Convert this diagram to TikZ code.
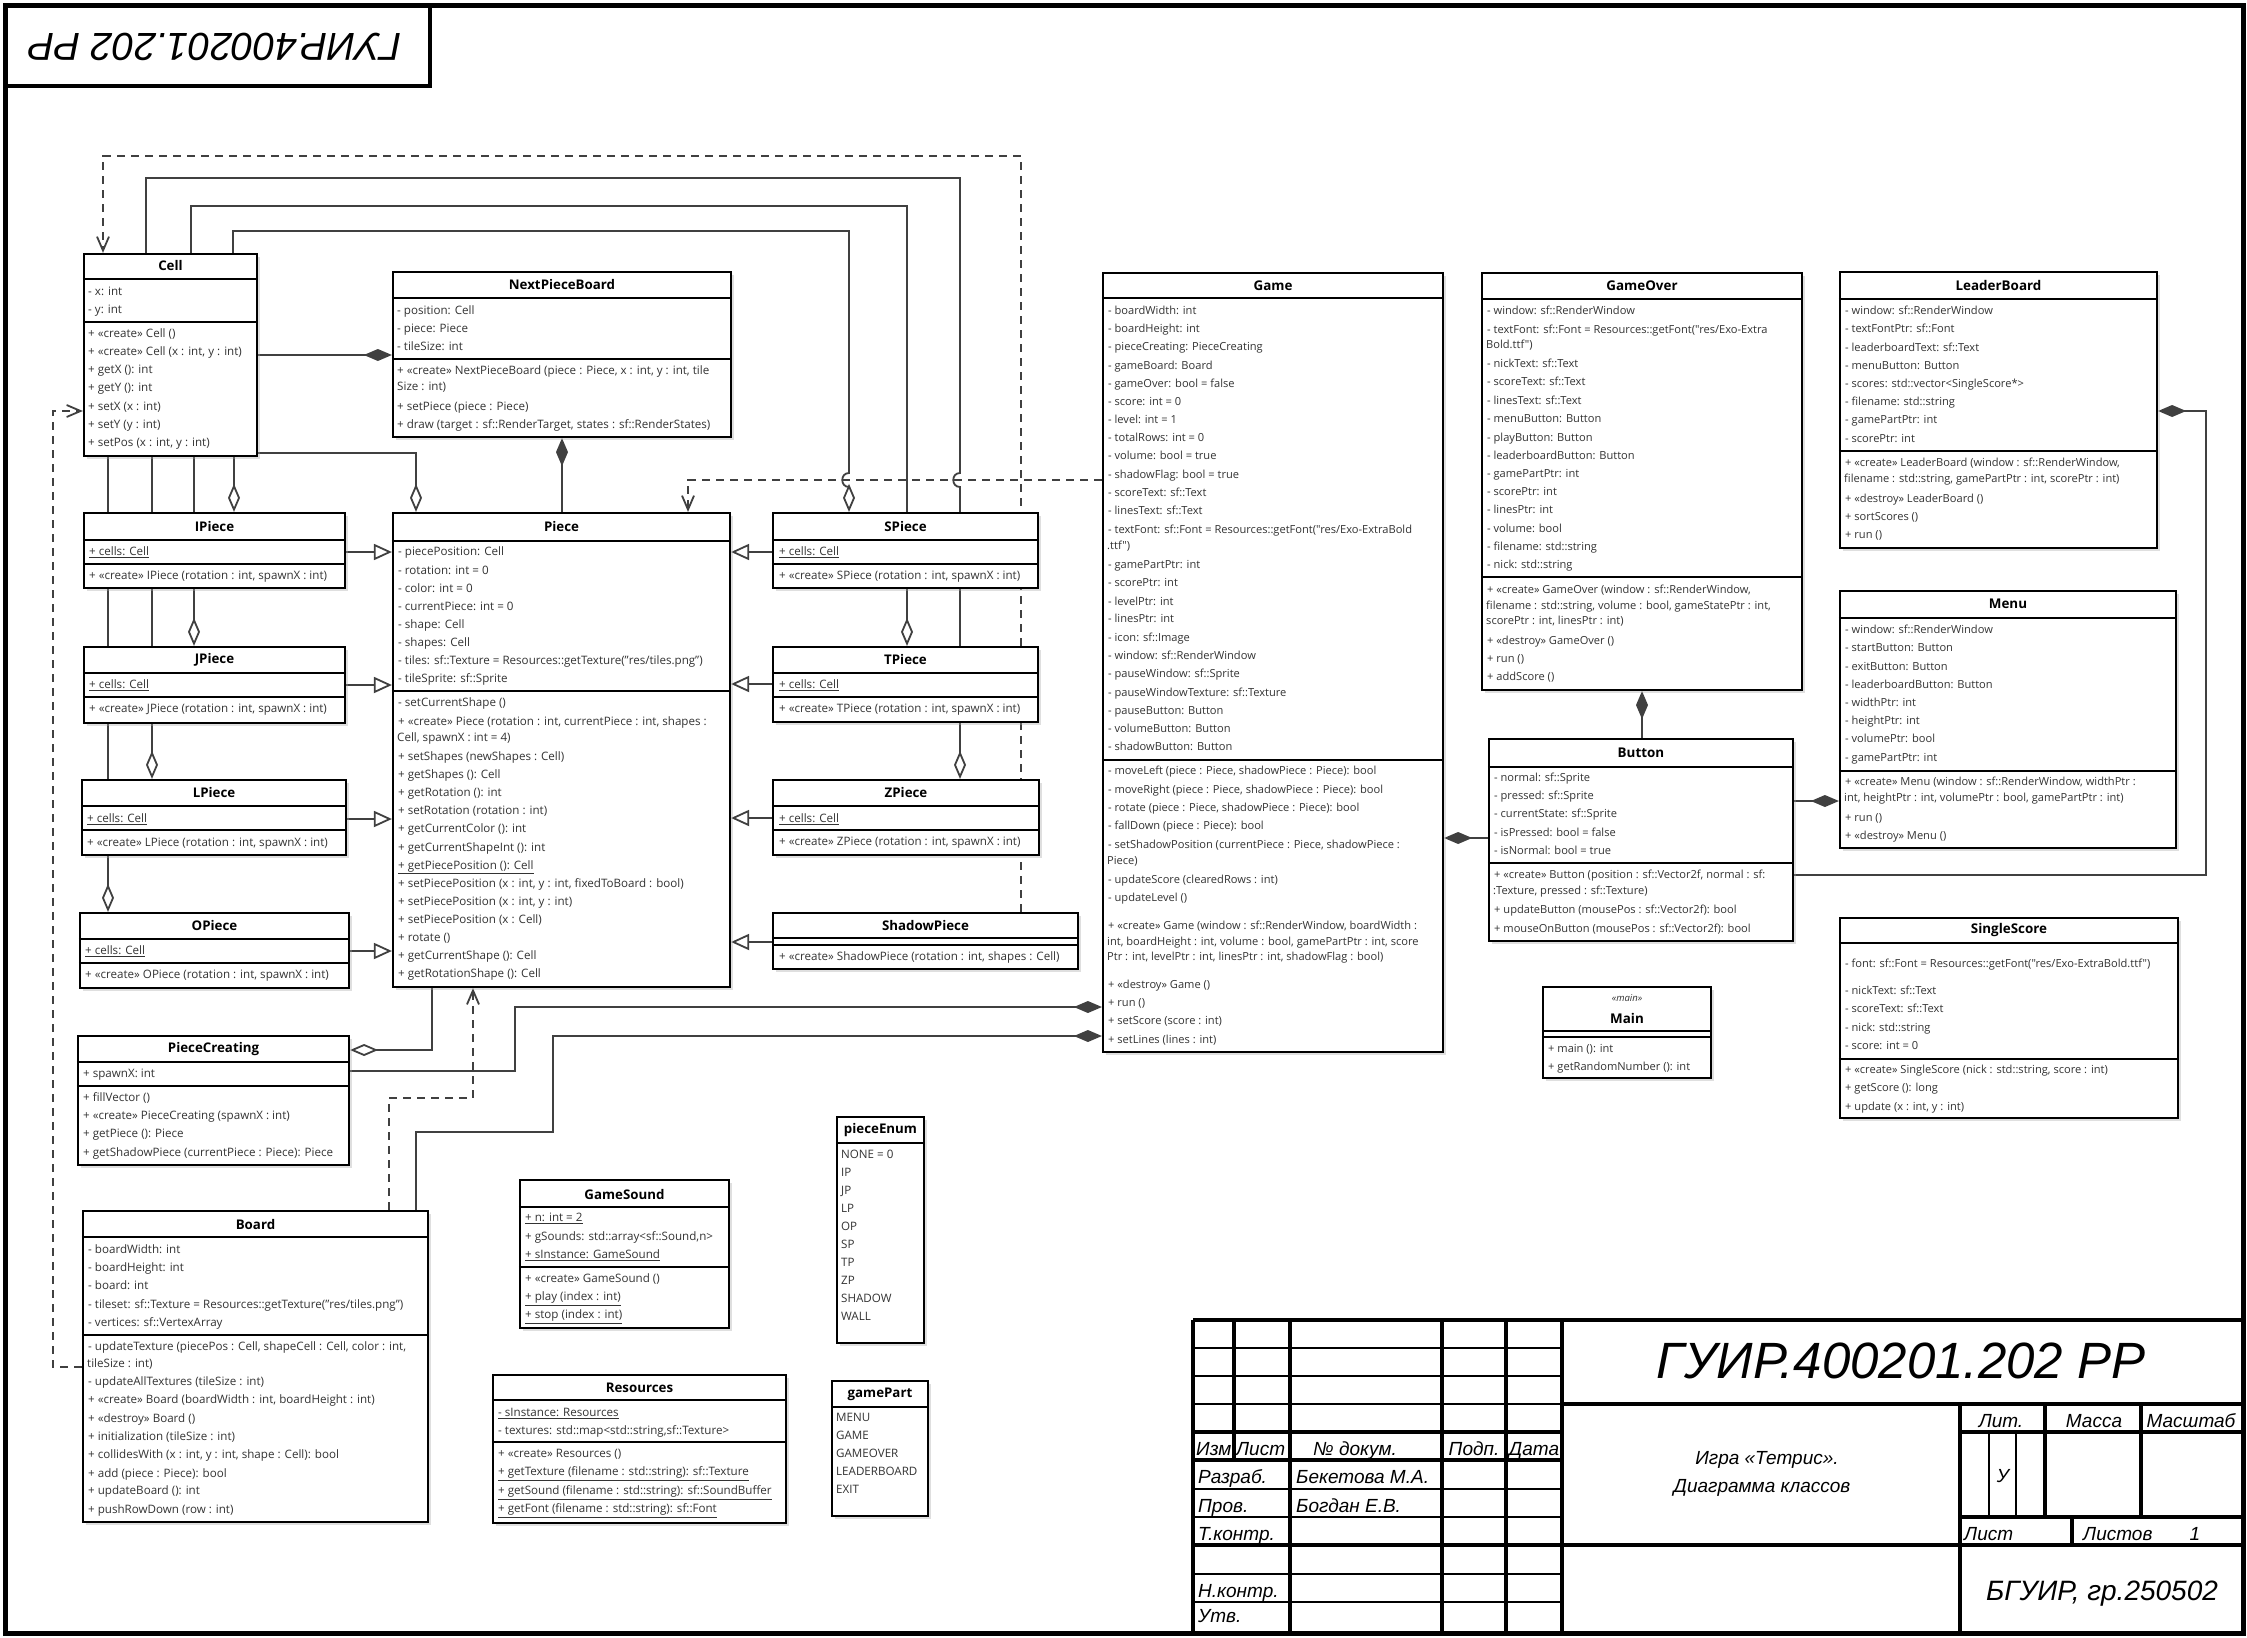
\documentclass[tikz,border=0pt]{standalone}
\usepackage{fontspec}
\setmainfont{Open Sans}
\newfontfamily\rgt{Open Sans}
\newfontfamily\gost{Liberation Sans}
\usetikzlibrary{arrows.meta,fit,shadows}
\pgfdeclarelayer{back}\pgfdeclarelayer{bg}\pgfsetlayers{back,bg,main}
\newcounter{tn}
\newcommand\im[3]{\stepcounter{tn}\node[itm] (t\arabic{tn}) at (#1,#2) {#3};}
\newcommand\rim[3]{\stepcounter{tn}\node[ritm] (t\arabic{tn}) at (#1,#2) {#3};}
\newcommand\ubox[5]{\node[cls, fit={(#2,#3) (#4,#5)}] (#1) {};}
\newcommand\usep[2]{\draw[sepl] (#1.west |- 0,#2) -- (#1.east |- 0,#2);}
\newcommand\uttl[3]{\node[ttl] (#1t) at (#1.north |- 0,#2) {#3};}
\newcommand\ruttl[3]{\node[rttl] (#1t) at (#1.north |- 0,#2) {#3};}
\newcommand\tb[4]{\stepcounter{tn}\node[tbt,anchor=#3] (b\arabic{tn}) at (#1,#2) {#4};}
\tikzset{
  cls/.style={draw=black, line width=2.2pt, fill=white, inner sep=0pt,
    drop shadow={shadow xshift=3pt, shadow yshift=-3pt, fill=black!35, opacity=0.35}},
  sepl/.style={line width=1.8pt, black},
  itm/.style={anchor=west, inner sep=0pt, text=black!80, text height=9pt, text depth=2pt,
    font=\fontsize{11.6}{13}\selectfont},
  ritm/.style={itm, font=\rgt\fontsize{11.1}{13}\selectfont},
  ttl/.style={inner sep=0pt, font=\bfseries\fontsize{13.3}{15}\selectfont},
  rttl/.style={ttl, font=\rgt\bfseries\fontsize{13.4}{15}\selectfont},
  conn/.style={draw=black!75, line width=1.8pt},
  dep/.style={conn, dash pattern=on 8pt off 6pt, -{Straight Barb[length=14pt,width=12pt]}},
  comp/.style={conn, -{Diamond[length=28pt,width=12pt]}},
  aggr/.style={conn, -{Diamond[fill=white,length=28pt,width=12pt]}},
  gen/.style={conn, -{Triangle[fill=white,length=18pt,width=16pt]}},
  thk/.style={line width=4pt, black},
  thn/.style={line width=2pt, black},
  tbt/.style={inner sep=0pt, font=\gost\itshape\fontsize{19}{20}\selectfont},
}
\begin{document}
\begin{tikzpicture}[x=1pt,y=-1pt]
\useasboundingbox (0,0) rectangle (2247,1638);
\begin{pgfonlayer}{back}
\fill[white] (0,0) rectangle (2247,1638);
\end{pgfonlayer}
% ---------------- frame ----------------
\draw[line width=5pt] (5,5) rectangle (2243,1633);
\draw[line width=4pt] (5,5) rectangle (430,86);
\node[rotate=180, inner sep=0pt, font=\gost\itshape\fontsize{39}{40}\selectfont] (stamp) at (215,47) {ГУИР.400201.202\kern0.28emРР};

% ---------------- Cell ----------------
\ubox{cell}{84}{254}{257}{456}
\uttl{cell}{266}{Cell}
\usep{cell}{279}\usep{cell}{322}
\im{88}{292}{- x: int}
\im{88}{310}{- y: int}
\im{88}{334}{+ «create» Cell ()}
\im{88}{352}{+ «create» Cell (x : int, y : int)}
\im{88}{370}{+ getX (): int}
\im{88}{388}{+ getY (): int}
\im{88}{407}{+ setX (x : int)}
\im{88}{425}{+ setY (y : int)}
\im{88}{443}{+ setPos (x : int, y : int)}

% ---------------- NextPieceBoard ----------------
\ubox{npb}{393}{272}{731}{437}
\uttl{npb}{285}{NextPieceBoard}
\usep{npb}{298}\usep{npb}{359}
\im{397}{311}{- position: Cell}
\im{397}{329}{- piece: Piece}
\im{397}{347}{- tileSize: int}
\im{397}{371}{+ «create» NextPieceBoard (piece : Piece, x : int, y : int, tile}
\im{397}{387}{Size : int)}
\im{397}{407}{+ setPiece (piece : Piece)}
\im{397}{425}{+ draw (target : sf::RenderTarget, states : sf::RenderStates)}

% ---------------- Piece ----------------
\ubox{piece}{393}{513}{730}{987}
\uttl{piece}{527}{Piece}
\usep{piece}{541}\usep{piece}{691}
\im{398}{552}{- piecePosition: Cell}
\im{398}{571}{- rotation: int = 0}
\im{398}{589}{- color: int = 0}
\im{398}{607}{- currentPiece: int = 0}
\im{398}{625}{- shape: Cell}
\im{398}{643}{- shapes: Cell}
\im{398}{661}{- tiles: sf::Texture = Resources::getTexture("res/tiles.png")}
\im{398}{679}{- tileSprite: sf::Sprite}
\im{398}{703}{- setCurrentShape ()}
\im{398}{722}{+ «create» Piece (rotation : int, currentPiece : int, shapes :}
\im{397}{738}{Cell, spawnX : int = 4)}
\im{398}{757}{+ setShapes (newShapes : Cell)}
\im{398}{775}{+ getShapes (): Cell}
\im{398}{793}{+ getRotation (): int}
\im{398}{811}{+ setRotation (rotation : int)}
\im{398}{829}{+ getCurrentColor (): int}
\im{398}{848}{+ getCurrentShapeInt (): int}
\im{398}{866}{\underline{+ getPiecePosition (): Cell}}
\im{398}{884}{+ setPiecePosition (x : int, y : int, fixedToBoard : bool)}
\im{398}{902}{+ setPiecePosition (x : int, y : int)}
\im{398}{920}{+ setPiecePosition (x : Cell)}
\im{398}{938}{+ rotate ()}
\im{398}{956}{+ getCurrentShape (): Cell}
\im{398}{974}{+ getRotationShape (): Cell}

% ---------------- I/J/L/O Piece ----------------
\ubox{ipiece}{84}{513}{345}{588}
\uttl{ipiece}{527}{IPiece}
\usep{ipiece}{540}\usep{ipiece}{564}
\im{89}{552}{\underline{+ cells: Cell}}
\im{89}{576}{+ «create» IPiece (rotation : int, spawnX : int)}

\ubox{jpiece}{84}{647}{345}{723}
\uttl{jpiece}{660}{JPiece}
\usep{jpiece}{673}\usep{jpiece}{697}
\im{89}{685}{\underline{+ cells: Cell}}
\im{89}{709}{+ «create» JPiece (rotation : int, spawnX : int)}

\ubox{lpiece}{82}{780}{346}{855}
\uttl{lpiece}{793}{LPiece}
\usep{lpiece}{806}\usep{lpiece}{830}
\im{87}{819}{\underline{+ cells: Cell}}
\im{87}{843}{+ «create» LPiece (rotation : int, spawnX : int)}

\ubox{opiece}{80}{913}{349}{988}
\uttl{opiece}{926}{OPiece}
\usep{opiece}{939}\usep{opiece}{963}
\im{85}{951}{\underline{+ cells: Cell}}
\im{85}{975}{+ «create» OPiece (rotation : int, spawnX : int)}

% ---------------- S/T/Z/Shadow Piece ----------------
\ubox{spiece}{773}{513}{1038}{588}
\uttl{spiece}{527}{SPiece}
\usep{spiece}{540}\usep{spiece}{564}
\im{779}{552}{\underline{+ cells: Cell}}
\im{779}{576}{+ «create» SPiece (rotation : int, spawnX : int)}

\ubox{tpiece}{773}{647}{1038}{722}
\uttl{tpiece}{660}{TPiece}
\usep{tpiece}{673}\usep{tpiece}{697}
\im{779}{685}{\underline{+ cells: Cell}}
\im{779}{709}{+ «create» TPiece (rotation : int, spawnX : int)}

\ubox{zpiece}{773}{780}{1039}{855}
\uttl{zpiece}{793}{ZPiece}
\usep{zpiece}{806}\usep{zpiece}{830}
\im{779}{819}{\underline{+ cells: Cell}}
\im{779}{842}{+ «create» ZPiece (rotation : int, spawnX : int)}

\ubox{shadow}{773}{913}{1078}{969}
\uttl{shadow}{926}{ShadowPiece}
\usep{shadow}{938}\usep{shadow}{945}
\im{779}{957}{+ «create» ShadowPiece (rotation : int, shapes : Cell)}

% ---------------- PieceCreating ----------------
\ubox{pcreat}{78}{1036}{349}{1165}
\uttl{pcreat}{1049}{PieceCreating}
\usep{pcreat}{1062}\usep{pcreat}{1086}
\im{83}{1074}{+ spawnX: int}
\im{83}{1098}{+ fillVector ()}
\im{83}{1116}{+ «create» PieceCreating (spawnX : int)}
\im{83}{1134}{+ getPiece (): Piece}
\im{83}{1153}{+ getShadowPiece (currentPiece : Piece): Piece}

% ---------------- Board ----------------
\ubox{board}{83}{1211}{428}{1522}
\uttl{board}{1224}{Board}
\usep{board}{1237}\usep{board}{1335}
\im{88}{1250}{- boardWidth: int}
\im{88}{1268}{- boardHeight: int}
\im{88}{1286}{- board: int}
\im{88}{1305}{- tileset: sf::Texture = Resources::getTexture("res/tiles.png")}
\im{88}{1323}{- vertices: sf::VertexArray}
\im{88}{1347}{- updateTexture (piecePos : Cell, shapeCell : Cell, color : int,}
\im{87}{1364}{tileSize : int)}
\im{88}{1382}{- updateAllTextures (tileSize : int)}
\im{88}{1400}{+ «create» Board (boardWidth : int, boardHeight : int)}
\im{88}{1419}{+ «destroy» Board ()}
\im{88}{1437}{+ initialization (tileSize : int)}
\im{88}{1455}{+ collidesWith (x : int, y : int, shape : Cell): bool}
\im{88}{1474}{+ add (piece : Piece): bool}
\im{88}{1491}{+ updateBoard (): int}
\im{88}{1510}{+ pushRowDown (row : int)}

% ---------------- GameSound ----------------
\ubox{gsound}{520}{1180}{729}{1328}
\uttl{gsound}{1194}{GameSound}
\usep{gsound}{1207}\usep{gsound}{1267}
\im{525}{1218}{\underline{+ n: int = 2}}
\im{525}{1237}{+ gSounds: std::array<sf::Sound,n>}
\im{525}{1255}{\underline{+ sInstance: GameSound}}
\im{525}{1279}{+ «create» GameSound ()}
\im{525}{1297}{\underline{+ play (index : int)}}
\im{525}{1315}{\underline{+ stop (index : int)}}

% ---------------- Resources ----------------
\ubox{res}{493}{1375}{786}{1523}
\uttl{res}{1388}{Resources}
\usep{res}{1400}\usep{res}{1442}
\im{498}{1413}{\underline{- sInstance: Resources}}
\im{498}{1431}{- textures: std::map<std::string,sf::Texture>}
\im{498}{1454}{+ «create» Resources ()}
\im{498}{1472}{\underline{+ getTexture (filename : std::string): sf::Texture}}
\im{498}{1491}{\underline{+ getSound (filename : std::string): sf::SoundBuffer}}
\im{498}{1509}{\underline{+ getFont (filename : std::string): sf::Font}}

% ---------------- enums ----------------
\ubox{penum}{837}{1117}{924}{1343}
\uttl{penum}{1130}{pieceEnum}
\usep{penum}{1143}
\im{841}{1155}{NONE = 0}
\im{841}{1173}{IP}
\im{841}{1191}{JP}
\im{841}{1209}{LP}
\im{841}{1227}{OP}
\im{841}{1245}{SP}
\im{841}{1263}{TP}
\im{841}{1281}{ZP}
\im{841}{1299}{SHADOW}
\im{841}{1317}{WALL}

\ubox{gpart}{832}{1381}{928}{1516}
\uttl{gpart}{1394}{gamePart}
\usep{gpart}{1407}
\im{836}{1418}{MENU}
\im{836}{1436}{GAME}
\im{836}{1454}{GAMEOVER}
\im{836}{1472}{LEADERBOARD}
\im{836}{1490}{EXIT}

% ---------------- Game ----------------
\ubox{game}{1103}{273}{1443}{1052}
\ruttl{game}{286}{Game}
\usep{game}{298}\usep{game}{760}
\rim{1108}{311}{- boardWidth: int}
\rim{1108}{329}{- boardHeight: int}
\rim{1108}{347}{- pieceCreating: PieceCreating}
\rim{1108}{366}{- gameBoard: Board}
\rim{1108}{384}{- gameOver: bool = false}
\rim{1108}{402}{- score: int = 0}
\rim{1108}{420}{- level: int = 1}
\rim{1108}{438}{- totalRows: int = 0}
\rim{1108}{456}{- volume: bool = true}
\rim{1108}{475}{- shadowFlag: bool = true}
\rim{1108}{493}{- scoreText: sf::Text}
\rim{1108}{511}{- linesText: sf::Text}
\rim{1108}{530}{- textFont: sf::Font = Resources::getFont("res/Exo-ExtraBold}
\rim{1107}{546}{.ttf")}
\rim{1108}{565}{- gamePartPtr: int}
\rim{1108}{583}{- scorePtr: int}
\rim{1108}{602}{- levelPtr: int}
\rim{1108}{619}{- linesPtr: int}
\rim{1108}{638}{- icon: sf::Image}
\rim{1108}{656}{- window: sf::RenderWindow}
\rim{1108}{674}{- pauseWindow: sf::Sprite}
\rim{1108}{693}{- pauseWindowTexture: sf::Texture}
\rim{1108}{711}{- pauseButton: Button}
\rim{1108}{729}{- volumeButton: Button}
\rim{1108}{747}{- shadowButton: Button}
\rim{1108}{771}{- moveLeft (piece : Piece, shadowPiece : Piece): bool}
\rim{1108}{790}{- moveRight (piece : Piece, shadowPiece : Piece): bool}
\rim{1108}{808}{- rotate (piece : Piece, shadowPiece : Piece): bool}
\rim{1108}{826}{- fallDown (piece : Piece): bool}
\rim{1108}{845}{- setShadowPosition (currentPiece : Piece, shadowPiece :}
\rim{1107}{861}{Piece)}
\rim{1108}{880}{- updateScore (clearedRows : int)}
\rim{1108}{898}{- updateLevel ()}
\rim{1108}{926}{+ «create» Game (window : sf::RenderWindow, boardWidth :}
\rim{1107}{942}{int, boardHeight : int, volume : bool, gamePartPtr : int, score}
\rim{1107}{957}{Ptr : int, levelPtr : int, linesPtr : int, shadowFlag : bool)}
\rim{1108}{985}{+ «destroy» Game ()}
\rim{1108}{1003}{+ run ()}
\rim{1108}{1021}{+ setScore (score : int)}
\rim{1108}{1040}{+ setLines (lines : int)}

% ---------------- GameOver ----------------
\ubox{gover}{1482}{273}{1802}{690}
\ruttl{gover}{286}{GameOver}
\usep{gover}{299}\usep{gover}{577}
\rim{1487}{311}{- window: sf::RenderWindow}
\rim{1487}{330}{- textFont: sf::Font = Resources::getFont("res/Exo-Extra}
\rim{1486}{345}{Bold.ttf")}
\rim{1487}{364}{- nickText: sf::Text}
\rim{1487}{382}{- scoreText: sf::Text}
\rim{1487}{401}{- linesText: sf::Text}
\rim{1487}{419}{- menuButton: Button}
\rim{1487}{438}{- playButton: Button}
\rim{1487}{456}{- leaderboardButton: Button}
\rim{1487}{474}{- gamePartPtr: int}
\rim{1487}{492}{- scorePtr: int}
\rim{1487}{510}{- linesPtr: int}
\rim{1487}{529}{- volume: bool}
\rim{1487}{547}{- filename: std::string}
\rim{1487}{565}{- nick: std::string}
\rim{1487}{590}{+ «create» GameOver (window : sf::RenderWindow,}
\rim{1486}{606}{filename : std::string, volume : bool, gameStatePtr : int,}
\rim{1486}{621}{scorePtr : int, linesPtr : int)}
\rim{1487}{641}{+ «destroy» GameOver ()}
\rim{1487}{659}{+ run ()}
\rim{1487}{677}{+ addScore ()}

% ---------------- Button ----------------
\ubox{button}{1489}{739}{1793}{941}
\ruttl{button}{753}{Button}
\usep{button}{767}\usep{button}{863}
\rim{1494}{778}{- normal: sf::Sprite}
\rim{1494}{796}{- pressed: sf::Sprite}
\rim{1494}{814}{- currentState: sf::Sprite}
\rim{1494}{833}{- isPressed: bool = false}
\rim{1494}{851}{- isNormal: bool = true}
\rim{1494}{875}{+ «create» Button (position : sf::Vector2f, normal : sf:}
\rim{1493}{891}{:Texture, pressed : sf::Texture)}
\rim{1494}{910}{+ updateButton (mousePos : sf::Vector2f): bool}
\rim{1494}{929}{+ mouseOnButton (mousePos : sf::Vector2f): bool}

% ---------------- LeaderBoard ----------------
\ubox{leader}{1840}{272}{2157}{548}
\ruttl{leader}{285}{LeaderBoard}
\usep{leader}{299}\usep{leader}{451}
\rim{1845}{311}{- window: sf::RenderWindow}
\rim{1845}{329}{- textFontPtr: sf::Font}
\rim{1845}{348}{- leaderboardText: sf::Text}
\rim{1845}{366}{- menuButton: Button}
\rim{1845}{384}{- scores: std::vector<SingleScore*>}
\rim{1845}{402}{- filename: std::string}
\rim{1845}{420}{- gamePartPtr: int}
\rim{1845}{439}{- scorePtr: int}
\rim{1845}{463}{+ «create» LeaderBoard (window : sf::RenderWindow,}
\rim{1844}{479}{filename : std::string, gamePartPtr : int, scorePtr : int)}
\rim{1845}{499}{+ «destroy» LeaderBoard ()}
\rim{1845}{517}{+ sortScores ()}
\rim{1845}{535}{+ run ()}

% ---------------- Menu ----------------
\ubox{menu}{1840}{591}{2176}{848}
\ruttl{menu}{604}{Menu}
\usep{menu}{618}\usep{menu}{771}
\rim{1845}{630}{- window: sf::RenderWindow}
\rim{1845}{648}{- startButton: Button}
\rim{1845}{667}{- exitButton: Button}
\rim{1845}{685}{- leaderboardButton: Button}
\rim{1845}{703}{- widthPtr: int}
\rim{1845}{721}{- heightPtr: int}
\rim{1845}{739}{- volumePtr: bool}
\rim{1845}{758}{- gamePartPtr: int}
\rim{1845}{782}{+ «create» Menu (window : sf::RenderWindow, widthPtr :}
\rim{1844}{798}{int, heightPtr : int, volumePtr : bool, gamePartPtr : int)}
\rim{1845}{818}{+ run ()}
\rim{1845}{836}{+ «destroy» Menu ()}

% ---------------- SingleScore ----------------
\ubox{sscore}{1840}{918}{2178}{1118}
\ruttl{sscore}{930}{SingleScore}
\usep{sscore}{943}\usep{sscore}{1059}
\rim{1845}{964}{- font: sf::Font = Resources::getFont("res/Exo-ExtraBold.ttf")}
\rim{1845}{991}{- nickText: sf::Text}
\rim{1845}{1009}{- scoreText: sf::Text}
\rim{1845}{1028}{- nick: std::string}
\rim{1845}{1046}{- score: int = 0}
\rim{1845}{1070}{+ «create» SingleScore (nick : std::string, score : int)}
\rim{1845}{1088}{+ getScore (): long}
\rim{1845}{1107}{+ update (x : int, y : int)}

% ---------------- Main ----------------
\ubox{mainc}{1543}{987}{1711}{1078}
\node[inner sep=0pt, font=\rgt\itshape\fontsize{9.5}{10}\selectfont, text=black!80] (mains) at (mainc.north |- 0,998) {«main»};
\ruttl{mainc}{1018}{Main}
\usep{mainc}{1031}\usep{mainc}{1037}
\rim{1548}{1049}{+ main (): int}
\rim{1548}{1067}{+ getRandomNumber (): int}

% ---------------- connectors ----------------
\begin{pgfonlayer}{bg}
\draw[comp] (cell.east |- 0,355) -- (npb.west |- 0,355);
\draw[comp] (piece.north -| 562,0) -- (npb.south -| 562,0);
\draw[aggr] (cell.east |- 0,453) -| (piece.north -| 416,0);
\draw[aggr] (cell.south -| 234,0) -- (ipiece.north -| 234,0);
\draw[aggr] (cell.south -| 194,0) -- (jpiece.north -| 194,0);
\draw[aggr] (cell.south -| 152,0) -- (lpiece.north -| 152,0);
\draw[aggr] (cell.south -| 108,0) -- (opiece.north -| 108,0);
\draw[aggr] (cell.north -| 233,0) |- (849,231) -- (849,473) .. controls (840,473) and (840,487) .. (849,487) -- (spiece.north -| 849,0);
\draw[aggr] (cell.north -| 191,0) |- (907,206) -- (tpiece.north -| 907,0);
\draw[aggr] (cell.north -| 146,0) |- (960,178) -- (960,473) .. controls (951,473) and (951,487) .. (960,487) -- (zpiece.north -| 960,0);
\draw[dep] (shadow.north -| 1021,0) |- (103,156) -- (cell.north -| 103,0);
\draw[dep] (game.west |- 0,480) -| (piece.north -| 688,0);
\draw[dep] (board.west |- 0,1367) -| (53,411) -- (cell.west |- 0,411);
\draw[dep] (board.north -| 389,0) |- (473,1098) -- (piece.south -| 473,0);
\draw[gen] (ipiece.east |- 0,552) -- (piece.west |- 0,552);
\draw[gen] (jpiece.east |- 0,685) -- (piece.west |- 0,685);
\draw[gen] (lpiece.east |- 0,819) -- (piece.west |- 0,819);
\draw[gen] (opiece.east |- 0,951) -- (piece.west |- 0,951);
\draw[gen] (spiece.west |- 0,552) -- (piece.east |- 0,552);
\draw[gen] (tpiece.west |- 0,684) -- (piece.east |- 0,684);
\draw[gen] (zpiece.west |- 0,818) -- (piece.east |- 0,818);
\draw[gen] (shadow.west |- 0,942) -- (piece.east |- 0,942);
\draw[aggr] (piece.south -| 432,0) |- (pcreat.east |- 0,1050);
\draw[comp] (pcreat.east |- 0,1071) -| (515,1007) -- (game.west |- 0,1007);
\draw[comp] (board.north -| 416,0) |- (553,1132) |- (game.west |- 0,1036);
\draw[comp] (button.west |- 0,838) -- (game.east |- 0,838);
\draw[comp] (button.north -| 1642,0) -- (gover.south -| 1642,0);
\draw[comp] (button.east |- 0,801) -- (menu.west |- 0,801);
\draw[comp] (button.east |- 0,875) -| (2206,411) -- (leader.east |- 0,411);
\end{pgfonlayer}

% ---------------- title block ----------------
\draw[thn] (1193,1348) -- (1562,1348);
\draw[thn] (1193,1376) -- (1562,1376);
\draw[thn] (1193,1404) -- (1562,1404);
\draw[thk] (1193,1432) -- (1562,1432);
\draw[thk] (1193,1460) -- (1562,1460);
\draw[thn] (1193,1489) -- (1562,1489);
\draw[thn] (1193,1517) -- (1562,1517);
\draw[thk] (1193,1545) -- (1562,1545);
\draw[thn] (1193,1574) -- (1562,1574);
\draw[thn] (1193,1602) -- (1562,1602);
\draw[thk] (1562,1404) -- (2244,1404);
\draw[thk] (1960,1432) -- (2244,1432);
\draw[thk] (1960,1517) -- (2244,1517);
\draw[thk] (1562,1545) -- (2244,1545);
\draw[thk] (1193,1320) -- (2244,1320);
\draw[thk] (1193,1320) -- (1193,1632);
\draw[thk] (1234,1320) -- (1234,1460);
\draw[thk] (1290,1320) -- (1290,1632);
\draw[thk] (1442,1320) -- (1442,1632);
\draw[thk] (1506,1320) -- (1506,1632);
\draw[thk] (1562,1320) -- (1562,1632);
\draw[thk] (1960,1404) -- (1960,1632);
\draw[thn] (1989,1432) -- (1989,1517);
\draw[thn] (2016,1432) -- (2016,1517);
\draw[thk] (2045,1404) -- (2045,1517);
\draw[thk] (2141,1404) -- (2141,1517);
\draw[thk] (2072,1517) -- (2072,1545);

\node[inner sep=0pt, anchor=base, font=\gost\itshape\fontsize{51}{52}\selectfont] (bigtitle) at (1901,1378) {ГУИР.400201.202 РР};
\tb{1196}{1455}{base west}{Изм.}
\tb{1236}{1455}{base west}{Лист}
\tb{1355}{1455}{base}{№ докум.}
\tb{1474}{1455}{base}{Подп.}
\tb{1534}{1455}{base}{Дата}
\tb{1198}{1483}{base west}{Разраб.}
\tb{1296}{1483}{base west}{Бекетова М.А.}
\tb{1198}{1512}{base west}{Пров.}
\tb{1296}{1512}{base west}{Богдан Е.В.}
\tb{1198}{1540}{base west}{Т.контр.}
\tb{1198}{1597}{base west}{Н.контр.}
\tb{1198}{1622}{base west}{Утв.}
\tb{1767}{1464}{base}{Игра «Тетрис».}
\tb{1762}{1492}{base}{Диаграмма классов}
\tb{2001}{1427}{base}{Лит.}
\tb{2094}{1427}{base}{Масса}
\tb{2191}{1427}{base}{Масштаб}
\tb{2003}{1482}{base}{У}
\tb{1964}{1540}{base west}{Лист}
\tb{2083}{1540}{base west}{Листов}
\tb{2195}{1540}{base}{1}
\node[inner sep=0pt, anchor=base, font=\gost\itshape\fontsize{28}{30}\selectfont] (org) at (2102,1600) {БГУИР, гр.250502};
\end{tikzpicture}
\end{document}
